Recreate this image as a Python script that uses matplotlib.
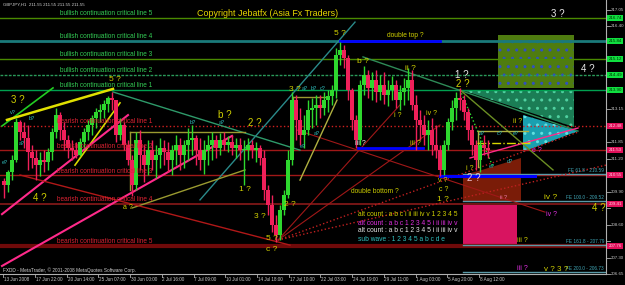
import matplotlib
matplotlib.use('Agg')
import matplotlib.pyplot as plt
from matplotlib.patches import Polygon
import matplotlib.transforms as mtrans

plt.rcParams['font.family'] = ['Liberation Sans', 'DejaVu Sans']

# ---------------- data ----------------
# 8-hour aggregated GBPJPY candles (bar index = H1 bars)
highs = [210.43, 210.75, 211.34, 212.79, 212.72, 212.64, 212.52, 211.73, 211.53, 211.46,
         211.53, 211.61, 212.40, 213.19, 213.03, 212.64, 212.13, 211.93, 211.85, 212.01,
         212.40, 212.72, 212.91, 213.19, 213.35, 213.50, 213.66, 213.82, 213.50, 212.79,
         212.64, 211.93, 211.34, 212.24, 212.32, 211.73, 211.93, 211.93, 211.73, 212.01,
         211.93, 211.85, 211.73, 212.13, 212.01, 211.93, 212.40, 212.52, 212.13, 212.01,
         211.93, 212.13, 212.24, 212.13, 212.20, 212.24, 212.09, 212.13, 212.01, 212.01,
         211.93, 212.01, 211.93, 211.85, 211.73, 211.53, 210.16, 209.76, 208.98, 209.37,
         209.96, 211.53, 213.82, 213.70, 213.19, 212.91, 213.50, 213.58, 213.70, 213.70,
         213.82, 213.90, 214.09, 215.55, 215.79, 215.67, 215.27, 213.98, 212.91, 214.29,
         214.84, 214.68, 214.61, 214.68, 214.49, 214.61, 214.29, 214.45, 214.29, 214.09,
         214.37, 214.76, 214.68, 213.70, 213.11, 212.91, 212.72, 212.79, 212.52, 211.73,
         211.93, 212.79, 213.50, 213.82, 213.98, 213.70, 213.19, 212.52, 211.93, 211.93,
         212.13, 211.93]
lows = [209.65, 209.88, 210.35, 211.06, 211.93, 211.61, 210.75, 210.83, 210.35, 210.51,
        210.67, 210.75, 211.14, 212.01, 211.93, 211.53, 211.22, 211.14, 211.22, 211.30,
        211.61, 211.93, 212.13, 212.40, 212.64, 212.79, 213.03, 213.11, 211.85, 211.93,
        211.53, 210.94, 209.72, 209.96, 210.75, 210.28, 210.55, 210.75, 210.43, 210.83,
        210.94, 210.67, 210.55, 210.94, 210.75, 210.83, 211.14, 211.34, 210.94, 210.75,
        210.59, 210.94, 211.14, 211.22, 211.34, 211.53, 211.46, 211.34, 211.22, 211.14,
        210.16, 211.14, 211.22, 211.06, 210.94, 209.57, 208.98, 208.31, 207.91, 207.99,
        208.98, 209.65, 210.94, 211.93, 211.73, 211.61, 212.13, 212.40, 212.52, 212.79,
        212.91, 213.03, 213.31, 213.58, 214.88, 214.76, 213.50, 212.32, 211.61, 211.73,
        213.70, 213.58, 213.50, 213.42, 213.50, 213.35, 213.27, 213.50, 213.19, 213.11,
        213.31, 213.50, 213.11, 211.53, 211.93, 211.73, 211.53, 211.34, 211.22, 210.51,
        210.55, 211.53, 212.32, 212.72, 213.11, 212.72, 211.93, 211.34, 210.75, 210.67,
        211.34, 211.22]
closes = [210.16, 210.67, 211.14, 212.64, 212.24, 212.01, 211.46, 211.22, 210.94, 211.14,
          211.06, 211.46, 212.24, 212.91, 212.32, 211.93, 211.61, 211.53, 211.34, 211.85,
          212.24, 212.52, 212.79, 213.03, 213.11, 213.35, 213.58, 213.50, 212.13, 212.52,
          211.73, 211.14, 210.16, 211.93, 211.34, 210.94, 211.53, 211.14, 211.34, 211.61,
          211.46, 211.14, 211.53, 211.73, 211.34, 211.73, 211.93, 212.01, 211.53, 211.14,
          211.53, 211.73, 211.93, 211.61, 211.93, 211.73, 211.85, 211.61, 211.73, 211.53,
          211.53, 211.73, 211.53, 211.61, 211.22, 209.96, 209.37, 208.58, 208.19, 209.17,
          209.76, 211.14, 213.50, 212.72, 212.13, 212.32, 213.11, 213.19, 213.31, 213.19,
          213.50, 213.66, 213.90, 215.27, 215.47, 215.16, 213.90, 212.72, 211.93, 214.09,
          214.49, 213.98, 214.29, 213.82, 214.09, 213.70, 213.90, 214.09, 213.50, 213.82,
          213.98, 214.29, 213.31, 212.72, 212.52, 212.13, 212.32, 211.73, 211.53, 210.75,
          211.73, 212.64, 213.19, 213.58, 213.50, 213.03, 212.32, 211.73, 211.14, 211.73,
          211.61, 211.53]
first_open = 210.30

price_ticks = [217.05, 216.40, 215.75, 215.10, 214.45, 213.80, 213.15, 212.50, 211.85,
               211.20, 210.55, 209.90, 209.25, 208.60, 207.95, 207.30, 206.65]
time_ticks = [2, 65, 129, 192, 256, 319, 383, 446, 509, 573, 636, 700, 763, 827, 890, 953]
time_labels = ["13 Jun 2008", "17 Jun 22:00", "20 Jun 14:00", "25 Jun 07:00", "30 Jun 00:00",
               "2 Jul 16:00", "7 Jul 09:00", "10 Jul 01:00", "14 Jul 18:00", "17 Jul 10:00",
               "22 Jul 03:00", "24 Jul 19:00", "29 Jul 11:00", "1 Aug 03:00", "5 Aug 20:00",
               "8 Aug 12:00"]

bull_levels = [216.74, 215.84, 215.12, 214.49, 213.90]
bull_names = ["bullish continuation critical line 5", "bullish continuation critical line 4",
              "bullish continuation critical line 3", "bullish continuation critical line 2",
              "bullish continuation critical line 1"]
bear_levels = [212.48, 211.53, 210.55, 209.41, 207.76]
bear_names = ["bearish continuation critical line 1", "bearish continuation critical line 2",
              "bearish continuation critical line 3", "bearish continuation critical line 4",
              "bearish continuation critical line 5"]
fe_levels = [210.59, 209.52, 207.79, 206.73]
fe_names = ["FE 61.8 - 210.59", "FE 100.0 - 209.52", "FE 161.8 - 207.79", "FE 200.0 - 206.73"]
fe_start = 922

# trendlines: (bar1, price1, bar2, price2, color, lw, style)
trendlines = [
    (0, 212.48, 102, 213.98, '#22cc22', 1.2, '-'),
    (10, 212.72, 222, 213.94, '#e0e000', 1.8, '-'),
    (146, 210.94, 236, 213.39, '#d8d800', 1.2, '-'),
    (222, 213.82, 596, 211.53, '#2e9a6a', 1.0, '-'),
    (396, 209.57, 706, 216.57, '#2a8a8a', 1.0, '-'),
    (260, 209.25, 486, 210.75, '#9a9a30', 1.0, '-'),
    (0, 209.01, 252, 212.91, '#ff2a8a', 1.5, '-'),
    (0, 206.97, 460, 212.09, '#ff2a8a', 1.5, '-'),
    (36, 210.55, 576, 207.79, '#b01818', 1.0, '-'),
    (722, 215.20, 1152, 212.28, '#2e8b57', 1.0, '-'),
    (552, 207.99, 1152, 212.24, '#c02020', 1.0, ':'),
    (552, 207.99, 1208, 210.94, '#c02020', 1.0, ':'),
    (552, 207.99, 796, 213.31, '#a01818', 0.8, '-'),
    (552, 207.99, 876, 212.52, '#a01818', 0.8, '-'),
    (590, 212.32, 1086, 209.09, '#a01818', 0.8, '-'),
    (916, 213.90, 1102, 210.75, '#6b8e23', 1.0, '-'),
    (916, 213.90, 982, 210.87, '#30e030', 1.0, ':'),
    (936, 211.22, 1152, 212.40, '#ff2a8a', 1.0, '-'),
    (256, 212.24, 486, 212.24, '#9a9a30', 1.0, '-'),
    (256, 212.24, 256, 209.96, '#9a9a30', 1.0, '-'),
    (582, 213.62, 652, 213.62, '#9a9a30', 1.0, '-'),
    (582, 213.62, 582, 211.53, '#9a9a30', 1.0, '-'),
    (596, 210.35, 670, 213.50, '#b0b040', 1.0, '-'),
    (952, 212.28, 1052, 212.28, '#b0b040', 1.0, '-'),
    (952, 212.28, 952, 210.87, '#b0b040', 1.0, '-'),
    (950, 211.81, 1056, 211.81, '#d8d800', 1.0, '-.'),
    (676, 215.84, 876, 215.84, '#0000ff', 2.0, '-'),
    (712, 211.61, 842, 211.61, '#0000ff', 2.0, '-'),
    (876, 210.51, 1066, 210.51, '#0000ff', 2.2, '-'),
]

# filled zones: (bars, prices, facecolor, hatchcolor)
zones = [
    ([992, 1144, 1144, 992], [216.06, 216.06, 213.98, 213.98], '#4f7c10', '#3050c0'),
    ([920, 1144, 1144], [213.90, 213.90, 212.44], '#1b7d55', '#50d0a0'),
    ([1042, 1042, 1152], [212.91, 211.46, 212.28], '#1aa0b0', '#60e0e0'),
    ([922, 922, 960, 1038, 1038], [209.49, 210.55, 210.75, 211.22, 209.49], '#7a1c08', None),
    ([922, 1030, 1030, 922], [209.37, 209.37, 207.83, 207.83], '#d81460', None),
]

Y, W_, C, M = '#d0d000', '#e8e8e8', '#30c0c0', '#e030e0'
wave_labels = [
    ("3 ?", 32, 213.50, Y, 7), ("5 ?", 226, 214.30, Y, 6), ("4 ?", 76, 209.65, Y, 7),
    ("b ?", 446, 212.91, Y, 7), ("2 ?", 506, 212.60, Y, 7), ("1 ?", 486, 209.96, Y, 6),
    ("3 ?", 516, 208.90, Y, 6), ("2 ?", 576, 209.37, Y, 6), ("5 ?", 540, 208.07, Y, 6),
    ("c ?", 540, 207.60, Y, 6), ("3 ?", 586, 213.90, Y, 6), ("5 ?", 676, 216.14, Y, 6),
    ("b ?", 722, 215.00, Y, 6), ("ii ?", 816, 214.76, Y, 6), ("3 ?", 1112, 216.89, W_, 7),
    ("4 ?", 1172, 214.72, W_, 7), ("1 ?", 920, 214.49, W_, 7), ("2 ?", 922, 214.13, Y, 7),
    ("i ?", 792, 212.91, Y, 5), ("iii ?", 826, 211.81, Y, 5), ("iii ?", 716, 211.81, W_, 5),
    ("iv ?", 860, 212.99, Y, 5), ("v ?", 882, 210.35, Y, 5), ("2 ?", 944, 210.43, '#f0c8d8', 7),
    ("i ?", 936, 210.79, Y, 5), ("ii ?", 1032, 212.64, Y, 5), ("e ?", 1070, 211.53, M, 5),
    ("c ?", 884, 209.96, Y, 5), ("1 ?", 882, 209.57, Y, 6), ("iv ?", 1098, 209.65, Y, 6),
    ("4 ?", 1194, 209.25, Y, 7), ("iv ?", 1098, 208.98, M, 5), ("iii ?", 1040, 207.99, Y, 5),
    ("iii ?", 1040, 206.85, M, 5), ("v ? 3 ?", 1108, 206.83, Y, 5.8), ("a ?", 252, 209.29, Y, 5),
    ("ii ?", 1002, 209.68, '#f080b0', 4),
    ("v?", 22, 213.03, C, 4), ("b?", 60, 212.79, C, 4), ("a?", 40, 211.81, C, 4),
    ("e?", 6, 211.06, C, 4), ("b?", 382, 212.60, C, 4), ("a?", 440, 212.60, C, 4),
    ("a?", 630, 212.20, C, 4), ("e?", 602, 211.69, C, 4), ("a?", 606, 213.94, C, 4),
    ("b?", 624, 213.94, C, 4), ("c?", 642, 213.94, C, 4), ("a?", 960, 212.20, C, 4),
    ("c?", 996, 212.20, C, 4), ("e?", 1028, 212.20, C, 4), ("e?", 980, 210.87, C, 4),
    ("d?", 1016, 211.10, C, 4),
]
note_labels = [("double top ?", 806, 216.06, Y, 4.8), ("double bottom ?", 746, 209.92, Y, 4.8)]
legend_lines = [("alt count : a b c i ii iii iv v 1 2 3 4 5", Y),
                ("alt count : a b c 1 2 3 4 5 i ii iii iv v", M),
                ("alt count : a b c 1 2 3 4 5 i ii iii iv v", W_),
                ("sub wave : 1 2 3 4 5 a b c d e", C)]
legend_bar = 712
legend_prices = [208.98, 208.66, 208.35, 208.03]

# ---------------- figure ----------------
fig = plt.figure(figsize=(6.25, 2.85), dpi=100, facecolor='black')
ax = fig.add_axes([0, 11 / 285, 606 / 625, 274 / 285], facecolor='black')
ax.set_xlim(-4, 1208)
ax.set_ylim(206.653, 217.44)
ax.set_xticks([])
ax.set_yticks([])
for s in ('left', 'top'):
    ax.spines[s].set_visible(False)
for s in ('right', 'bottom'):
    ax.spines[s].set_color('#b0b0b0')
    ax.spines[s].set_linewidth(0.8)

# zones
for xs_, ps_, fc, hc in zones:
    poly = Polygon(list(zip(xs_, ps_)), closed=True, facecolor=fc,
                   edgecolor=hc if hc else fc, lw=0, hatch='..' if hc else None, zorder=1)
    ax.add_patch(poly)

# horizontal levels
bull_colors = ['#4a8a00', '#1a7a7a', '#4a8a00', '#2a9a5a', '#00a050']
bull_lw = [1.0, 2.0, 1.0, 1.0, 1.0]
bull_ls = ['-', '-', '-', (0, (2, 1)), '-']
for p, name, c, lw, ls in zip(bull_levels, bull_names, bull_colors, bull_lw, bull_ls):
    ax.axhline(p, color=c, lw=lw, ls=ls, zorder=2)
    ax.text(116, p + 0.02, name, color='#33cc55', fontsize=4.7, va='bottom', ha='left', zorder=6)
bear_colors = ['#d02020', '#a01818', '#a01818', '#8a1a1a', '#700a0a']
bear_lw = [1.0, 1.0, 1.0, 1.2, 3.0]
bear_ls = [':', '-', '-', '-', '-']
for p, name, c, lw, ls in zip(bear_levels, bear_names, bear_colors, bear_lw, bear_ls):
    ax.axhline(p, color=c, lw=lw, ls=ls, zorder=2)
    ax.text(110, p + 0.02, name, color='#dd2233', fontsize=4.7, va='bottom', ha='left', zorder=6)
for p, name in zip(fe_levels, fe_names):
    ax.plot([fe_start, 1208], [p, p], color='#5a9aa8', lw=1.0, zorder=2)
    ax.text(1204, p + 0.03, name, color='#40a8b8', fontsize=3.4, va='bottom', ha='right', zorder=6)

# trendlines
for x1, p1, x2, p2, c, lw, ls in trendlines:
    ax.plot([x1, x2], [p1, p2], color=c, lw=lw, ls=ls, zorder=3)

# candles
opens = [first_open] + closes[:-1]
xs = [4 + 8 * i for i in range(len(closes))]
for x, o, h, l, c in zip(xs, opens, highs, lows, closes):
    col = '#2ed82e' if c >= o else '#f0205a'
    ax.vlines(x, l, h, color=col, lw=1.0, zorder=4)
    ax.bar(x, max(abs(c - o), 0.03), bottom=min(o, c), width=6.5, color=col, lw=0, zorder=4)

# labels
for t, b, p, c, fs in wave_labels + note_labels:
    ax.text(b, p, t, color=c, fontsize=fs, ha='center', va='center', zorder=7)
for (t, c), p in zip(legend_lines, legend_prices):
    ax.text(legend_bar, p, t, color=c, fontsize=4.8, ha='left', va='center', zorder=7)

# price axis
tr_y = mtrans.blended_transform_factory(ax.transAxes, ax.transData)
boxed = bull_levels + bear_levels
for p in price_ticks:
    ax.plot([1.0, 1.006], [p, p], color='#b0b0b0', lw=0.6, transform=tr_y, clip_on=False)
    if min(abs(p - q) for q in boxed) < 0.25:
        continue
    ax.text(1.008, p, f"{p:.2f}", color='#c8c8c8', fontsize=3.2, va='center', ha='left',
            transform=tr_y, clip_on=False)
for p in bull_levels:
    ax.text(1.004, p, f"{p:.2f}", color='#003000', fontsize=3.2, va='center', ha='left',
            transform=tr_y, clip_on=False,
            bbox=dict(boxstyle='square,pad=0.25', fc='#10e040', ec='none'))
for p in bear_levels:
    ax.text(1.004, p, f"{p:.2f}", color='#ffd0e0', fontsize=3.2, va='center', ha='left',
            transform=tr_y, clip_on=False,
            bbox=dict(boxstyle='square,pad=0.25', fc='#e0105a', ec='none'))

# time axis
tr_x = mtrans.blended_transform_factory(ax.transData, ax.transAxes)
for b, lab in zip(time_ticks, time_labels):
    ax.plot([b, b], [0, -0.012], color='#b0b0b0', lw=0.6, transform=tr_x, clip_on=False)
    ax.text(b + 2, -0.012, lab, color='#c8c8c8', fontsize=3.3, va='top', ha='left',
            transform=tr_x, clip_on=False)

fig.text(3 / 625, 1 - 5 / 285, "GBPJPY,H1  211.55 211.55 211.55 211.55", color='#d0d0d0',
         fontsize=3.2, va='center', ha='left')
fig.text(197 / 625, 1 - 13 / 285, "Copyright Jebatfx (Asia Fx Traders)", color='#e8d800',
         fontsize=6.4, va='center', ha='left')
fig.text(3 / 625, 1 - 270 / 285, "FXDD - MetaTrader, \u00a9 2001-2008 MetaQuotes Software Corp.",
         color='#d0d0d0', fontsize=3.4, va='center', ha='left')

fig.savefig('out.png', dpi=100, facecolor='black')
